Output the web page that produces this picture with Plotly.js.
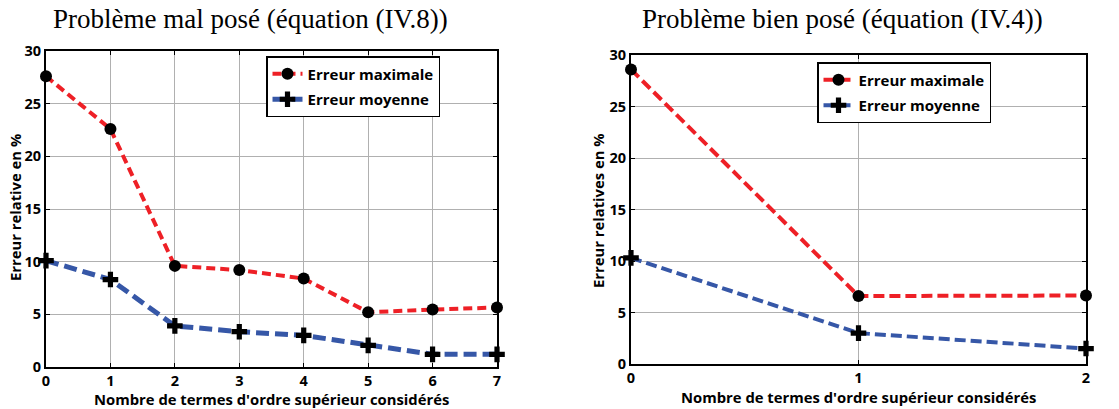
<!DOCTYPE html>
<html>
<head>
<meta charset="utf-8">
<script src="https://cdn.plot.ly/plotly-3.0.1.min.js"></script>
<style>html,body{margin:0;padding:0;background:#fff;}#chart{width:1119px;height:409px;}</style>
</head>
<body>
<div id="chart"></div>
<script>
// Data
const xLeft = [0, 1, 2, 3, 4, 5, 6, 7];
const maxLeft = [27.6, 22.6, 9.6, 9.2, 8.4, 5.2, 5.45, 5.65];
const meanLeft = [10.1, 8.3, 3.9, 3.35, 3.0, 2.05, 1.2, 1.2];
const xRight = [0, 1, 2];
const maxRight = [28.6, 6.6, 6.65];
const meanRight = [10.3, 3.0, 1.5];
const titleLeft = "Problème mal posé (équation (IV.8))";
const titleRight = "Problème bien posé (équation (IV.4))";
const xTitle = "Nombre de termes d'ordre supérieur considérés";
const yTitleLeft = "Erreur relative en %";
const yTitleRight = "Erreur relatives en %";
const nameMax = "Erreur maximale";
const nameMean = "Erreur moyenne";
const tickY = [0, 5, 10, 15, 20, 25, 30];

const RED = '#ee2026';
const BLUE = '#3657a7';
const SANS = '"Open Sans", sans-serif';
const SERIF = '"Liberation Serif", "Times New Roman", serif';

const circle = {symbol: 'circle', size: 12, color: '#000'};
const plus = {symbol: 'cross', size: 13, color: '#000'};

const traces = [
  {x: xLeft, y: maxLeft, name: nameMax, mode: 'lines+markers', xaxis: 'x', yaxis: 'y', legend: 'legend', legendgroup: 'a',
   line: {color: RED, width: 4, dash: '9px,5px'}, marker: circle, cliponaxis: false},
  {x: xLeft, y: meanLeft, name: nameMean, mode: 'lines+markers', xaxis: 'x', yaxis: 'y', legend: 'legend', legendgroup: 'b',
   line: {color: BLUE, width: 5, dash: '13px,6px'}, marker: plus, cliponaxis: false},
  {x: xRight, y: maxRight, name: nameMax, mode: 'lines+markers', xaxis: 'x2', yaxis: 'y2', legend: 'legend2', legendgroup: 'c',
   line: {color: RED, width: 4, dash: '11px,5px'}, marker: circle, cliponaxis: false},
  {x: xRight, y: meanRight, name: nameMean, mode: 'lines+markers', xaxis: 'x2', yaxis: 'y2', legend: 'legend2', legendgroup: 'd',
   line: {color: BLUE, width: 4, dash: '11px,5px'}, marker: plus, cliponaxis: false}
];

const W = 1119, H = 409;
function xd(a, b) { return [a / W, b / W]; }
function yd(top, bottom) { return [(H - bottom) / H, (H - top) / H]; }

const axisCommon = {
  showline: true, linecolor: '#000', linewidth: 2, mirror: 'ticks',
  showgrid: true, gridcolor: '#b0b0b0', gridwidth: 1,
  ticks: 'inside', ticklen: 4, tickcolor: '#000', tickwidth: 1,
  zeroline: false, fixedrange: true,
  tickfont: {family: SANS, size: 14.5, color: '#000', weight: 700}
};

const legendCommon = {
  bgcolor: '#fff', bordercolor: '#000', borderwidth: 1.5,
  font: {family: SANS, size: 15, color: '#000', weight: 700},
  xanchor: 'left', yanchor: 'top', itemwidth: 30, tracegroupgap: 3
};

const labelFont = {family: SANS, size: 14.8, color: '#000', weight: 700};

const layout = {
  width: W, height: H,
  margin: {l: 0, r: 0, t: 0, b: 0},
  paper_bgcolor: '#fff', plot_bgcolor: '#fff',
  showlegend: true,
  xaxis: Object.assign({}, axisCommon, {domain: xd(46, 497), range: [0, 7], anchor: 'y', tickvals: xLeft}),
  yaxis: Object.assign({}, axisCommon, {domain: yd(51, 367), range: [0, 30], anchor: 'x', tickvals: tickY}),
  xaxis2: Object.assign({}, axisCommon, {domain: xd(631, 1086), range: [0, 2], anchor: 'y2', tickvals: xRight}),
  yaxis2: Object.assign({}, axisCommon, {domain: yd(55, 364), range: [0, 30], anchor: 'x2', tickvals: tickY}),
  legend: Object.assign({}, legendCommon, {x: 266 / W, y: (H - 56) / H}),
  legend2: Object.assign({}, legendCommon, {x: 817 / W, y: (H - 62) / H}),
  annotations: [
    {text: titleLeft, x: 250 / W, y: (H - 19) / H, xref: 'paper', yref: 'paper', showarrow: false,
     xanchor: 'center', yanchor: 'middle', font: {family: SERIF, size: 27, color: '#000'}},
    {text: titleRight, x: 842 / W, y: (H - 19) / H, xref: 'paper', yref: 'paper', showarrow: false,
     xanchor: 'center', yanchor: 'middle', font: {family: SERIF, size: 27, color: '#000'}},
    {text: xTitle, x: 271 / W, y: 0, xref: 'paper', yref: 'paper', showarrow: false,
     xanchor: 'center', yanchor: 'bottom', yshift: -2, font: labelFont},
    {text: xTitle, x: 858 / W, y: 0, xref: 'paper', yref: 'paper', showarrow: false,
     xanchor: 'center', yanchor: 'bottom', yshift: 0, font: labelFont},
    {text: yTitleLeft, x: 15 / W, y: (H - 208) / H, xref: 'paper', yref: 'paper', showarrow: false, textangle: -90,
     xanchor: 'center', yanchor: 'middle', font: labelFont},
    {text: yTitleRight, x: 598 / W, y: (H - 210) / H, xref: 'paper', yref: 'paper', showarrow: false, textangle: -90,
     xanchor: 'center', yanchor: 'middle', font: labelFont}
  ]
};

Plotly.newPlot('chart', traces, layout, {displayModeBar: false, staticPlot: true});
</script>
</body>
</html>
